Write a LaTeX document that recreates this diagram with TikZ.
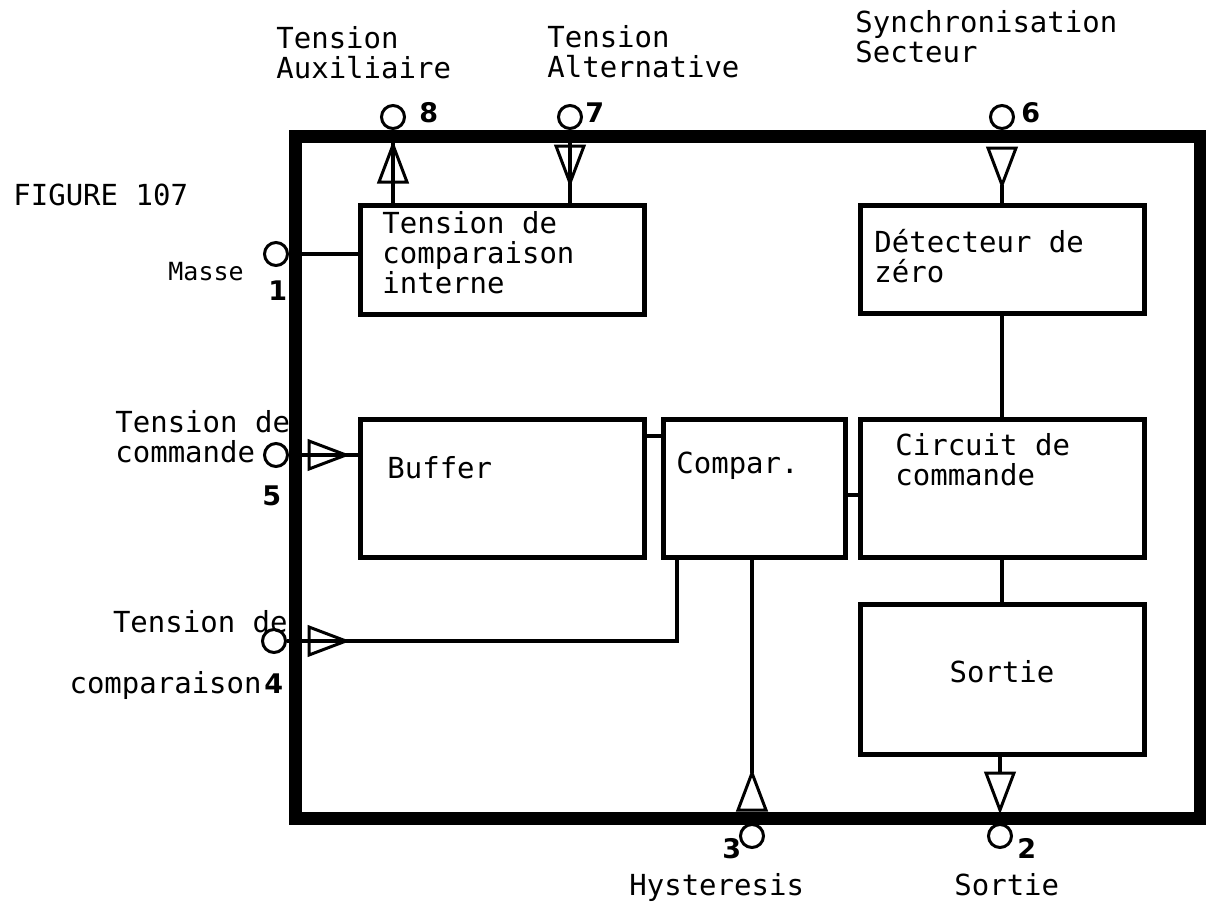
\documentclass[tikz,border=0pt]{standalone}
\usepackage{fontspec}
\setmonofont{DejaVu Sans Mono}
\setsansfont{DejaVu Sans}
\usetikzlibrary{positioning,shapes.geometric}

\begin{document}
\begin{tikzpicture}[
  x=0.5pt, y=-0.5pt,
  frame/.style={line width=6.5pt},
  blk/.style={draw, line width=2.5pt, inner sep=0pt, outer sep=0pt, minimum width=142pt},
  wire/.style={line width=2pt},
  term/.style={circle, draw, fill=white, line width=1.5pt, minimum size=11.5pt, inner sep=0pt},
  tri/.style={isosceles triangle, isosceles triangle stretches, draw, line width=1.5pt,
              minimum width=14pt, minimum height=18.5pt, inner sep=0pt, outer sep=0pt, anchor=apex},
  txt/.style={font=\ttfamily\fontsize{14.5}{15}\selectfont, align=left, inner sep=0pt, anchor=base west},
  small/.style={font=\ttfamily\fontsize{12.5}{13}\selectfont, inner sep=0pt, anchor=base west},
  num/.style={font=\sffamily\bfseries\fontsize{13.5}{14}\selectfont, inner sep=0pt, anchor=base west}
]
  \useasboundingbox[fill=white] (0,0) rectangle (1206,906);

  % blocks
  \node[blk, minimum height=69pt, anchor=north west] (buf) at (360,419) {};
  \node[blk, minimum width=91pt, minimum height=69pt, right=9.5pt of buf] (cmp) {};
  \node[blk, minimum height=69pt, right=7.5pt of cmp] (cc) {};
  \node[blk, minimum height=54.5pt, above=52.5pt of buf] (tci) {};
  \node[blk, minimum height=54pt, above=53pt of cc] (dz) {};
  \node[blk, minimum height=75pt, below=23.5pt of cc] (sor) {};

  % base = last line
  \node[txt] (tcitxt) at ([shift={(11pt,-44pt)}]tci.north west) {Tension de\\comparaison\\interne};
  \node[txt] (dztxt)  at ([shift={(7pt,-38.5pt)}]dz.north west)  {Détecteur de\\zéro};
  \node[txt] (buftxt) at ([shift={(13.5pt,-29.5pt)}]buf.north west) {Buffer};
  \node[txt] (cmptxt) at ([shift={(6.5pt,-27pt)}]cmp.north west) {Compar.};
  \node[txt] (cctxt)  at ([shift={(17.5pt,-33pt)}]cc.north west)  {Circuit de\\commande};
  \node[txt, anchor=base] (sortxt) at ([yshift=-39pt]sor.north) {Sortie};

  % boitier
  \draw[frame] (295,136.5) rectangle (1200,818.5);

  % bornes
  \node[term] (p8) at (393,117) {};
  \node[term] (p7) at (570,117) {};
  \node[term] (p6) at (1002,117) {};
  \node[term] (p1) at (276,254) {};
  \node[term] (p5) at (276,455) {};
  \node[term] (p4) at (274,641) {};
  \node[term] (p3) at (752,836) {};
  \node[term] (p2) at (1000,836) {};

  \node[tri, rotate=90]  (t8) at (393,145) {};
  \node[tri, rotate=-90] (t7) at (570,183) {};
  \node[tri, rotate=-90] (t6) at (1002,185) {};
  \node[tri]             (t5) at (346,455) {};
  \node[tri]             (t4) at (346,641) {};
  \node[tri, rotate=90]  (t3) at (752,773) {};
  \node[tri, rotate=-90] (t2) at (1000,810) {};

  % liaisons
  \draw[wire] (p1.east) -- (p1.east -| tci.west);
  \draw[wire] (p8.south) -- (p8.south |- tci.north);
  \draw[wire] (p7.south) -- (p7.south |- tci.north);
  \draw[wire] (t6.apex) -- (t6.apex |- dz.north);
  \draw[wire] (p5.east) -- (p5.east -| buf.west);
  \draw[wire] (p4.east) -| ([xshift=7pt]cmp.south west);
  \draw[wire] (t3.apex) -- (t3.apex |- cmp.south);
  \draw[wire] ([yshift=-8.5pt]buf.north east) -- ([yshift=-8.5pt]cmp.north west);
  \draw[wire] ([yshift=-38pt]cmp.north east) -- ([yshift=-38pt]cc.north west);
  \draw[wire] (dz.south) -- (cc.north);
  \draw[wire] (cc.south) -- (sor.north);
  \draw[wire] (t2.lower side |- sor.south) -- (t2.lower side);

  % reperes
  \node[num] (n8) at (419,122) {8};
  \node[num] (n7) at (585,122) {7};
  \node[num] (n6) at (1021,122) {6};
  \node[num] (n1) at (268,300) {1};
  \node[num] (n5) at (262,505) {5};
  \node[num] (n4) at (264,693) {4};
  \node[num] (n3) at (722,858) {3};
  \node[num] (n2) at (1017,858) {2};

  % legendes
  \node[txt] (fig)    at (13,205)  {FIGURE 107};
  \node[txt] (lblaux) at (276,78)  {Tension\\Auxiliaire};
  \node[txt] (lblalt) at (547,77)  {Tension\\Alternative};
  \node[txt] (lblsyn) at (855,62)  {Synchronisation\\Secteur};
  \node[small] (masse) at (168,280) {Masse};
  \node[txt] (lblcmd) at (115,462) {Tension de\\commande};
  \node[txt, anchor=base east] (lblcmpa) at (288,632) {Tension de};
  \node[txt, anchor=base east] (lblcmpb) at (262,693) {comparaison};
  \node[txt] (lblhys) at (629,895) {Hysteresis};
  \node[txt] (lblsor) at (954,895) {Sortie};
\end{tikzpicture}
\end{document}
